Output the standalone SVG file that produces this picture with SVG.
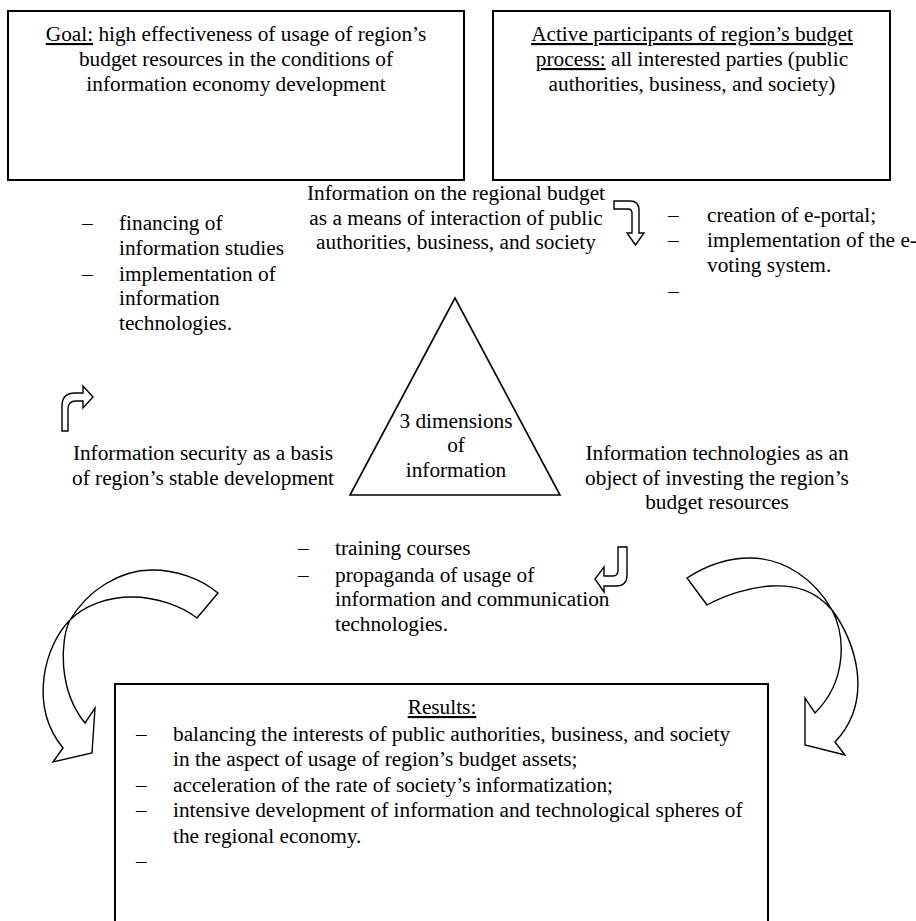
<svg xmlns="http://www.w3.org/2000/svg" width="916" height="921" viewBox="0 0 916 921" font-family="'Liberation Serif', 'Times New Roman', serif" font-size="21.3">
<style>
.c{text-anchor:middle}
.u{text-decoration:underline}
.box{fill:#fff;stroke:#000;stroke-width:2}
.tri{fill:#fff;stroke:#000;stroke-width:1.6}
.arr{fill:#fff;stroke:#000;stroke-width:1.4;stroke-linejoin:miter}
</style>
<rect width="916" height="921" fill="#fff"/>
<g id="goal">
<rect class="box" x="8" y="11" width="456" height="169"/>
<text class="c" x="236" y="41"><tspan class="u">Goal:</tspan> high effectiveness of usage of region’s</text>
<text class="c" x="236" y="66">budget resources in the conditions of</text>
<text class="c" x="236" y="91">information economy development</text>
</g>
<g id="participants">
<rect class="box" x="493" y="11" width="397" height="169"/>
<text class="c" x="692" y="41"><tspan class="u">Active participants of region’s budget</tspan></text>
<text class="c" x="692" y="66"><tspan class="u">process:</tspan> all interested parties (public</text>
<text class="c" x="692" y="91">authorities, business, and society)</text>
</g>
<g id="info-budget">
<text class="c" x="456" y="200">Information on the regional budget</text>
<text class="c" x="456" y="225">as a means of interaction of public</text>
<text class="c" x="456" y="249">authorities, business, and society</text>
</g>
<g id="left-measures">
<text x="82" y="230">–</text><text x="119" y="230">financing of</text>
<text x="119" y="255">information studies</text>
<text x="82" y="281">–</text><text x="119" y="281">implementation of</text>
<text x="119" y="305">information</text>
<text x="119" y="330">technologies.</text>
</g>
<g id="right-measures">
<text x="668" y="222">–</text><text x="707" y="222">creation of e-portal;</text>
<text x="668" y="247">–</text><text x="707" y="247">implementation of the e-</text>
<text x="707" y="272">voting system.</text>
<text x="668" y="298">–</text>
</g>
<g id="triangle">
<polygon class="tri" points="455,298 350,495 560,495"/>
<text class="c" x="456" y="428">3 dimensions</text>
<text class="c" x="456" y="452">of</text>
<text class="c" x="456" y="477">information</text>
</g>
<g id="security">
<text class="c" x="203" y="460">Information security as a basis</text>
<text class="c" x="203" y="485">of region’s stable development</text>
</g>
<g id="technologies">
<text class="c" x="717" y="460">Information technologies as an</text>
<text class="c" x="717" y="485">object of investing the region’s</text>
<text class="c" x="717" y="509">budget resources</text>
</g>
<g id="bottom-measures">
<text x="298" y="555">–</text><text x="335" y="555">training courses</text>
<text x="298" y="582">–</text><text x="335" y="582">propaganda of usage of</text>
<text x="335" y="606">information and communication</text>
<text x="335" y="631">technologies.</text>
</g>
<g id="results">
<rect class="box" x="115" y="684" width="653" height="260"/>
<text class="c" x="442" y="714"><tspan class="u">Results:</tspan></text>
<text x="136" y="741">–</text><text x="173" y="741">balancing the interests of public authorities, business, and society</text>
<text x="173" y="766">in the aspect of usage of region’s budget assets;</text>
<text x="136" y="792">–</text><text x="173" y="792">acceleration of the rate of society’s informatization;</text>
<text x="136" y="817">–</text><text x="173" y="817">intensive development of information and technological spheres of</text>
<text x="173" y="843">the regional economy.</text>
<text x="136" y="868">–</text>
</g>
<g id="connectors">
<path class="arr" d="M614,201 L630,201 Q639,201 639,210 L639,233 L644,233 L635.5,245 L627,233 L632,233 L632,213 Q632,209 628,209 L614,209 Z"/>
<path class="arr" d="M62,431 L62,406 Q62,393 75,393 L83,393 L83,386 L93,397 L83,408 L83,401 L76,401 Q68,401 68,409 L68,431 Z"/>
<path class="arr" d="M618,547 L627,547 L627,575 Q627,586 616,586 L604,586 L604,592 L595,579 L604,567 L604,576 L613,576 Q618,576 618,570 Z"/>
<path class="arr" d="M218,593 C200,578 175,570 152,570 C120,570 88,590 70,620 C60,640 58,690 85,723 L95,708 L92,753 L53,762 L63,748 C28,705 45,645 70,620 C85,605 108,597 132,597 C155,597 180,605 197,618 Z"/>
<path class="arr" d="M687,578 C707,565 727,558 750,558 C785,558 815,580 832,610 C845,635 848,680 815,713 L805,698 L805,745 L845,755 L835,742 C875,700 855,640 832,610 C815,590 795,585 772,586 C750,587 725,595 707,605 Z"/>
</g>
</svg>
